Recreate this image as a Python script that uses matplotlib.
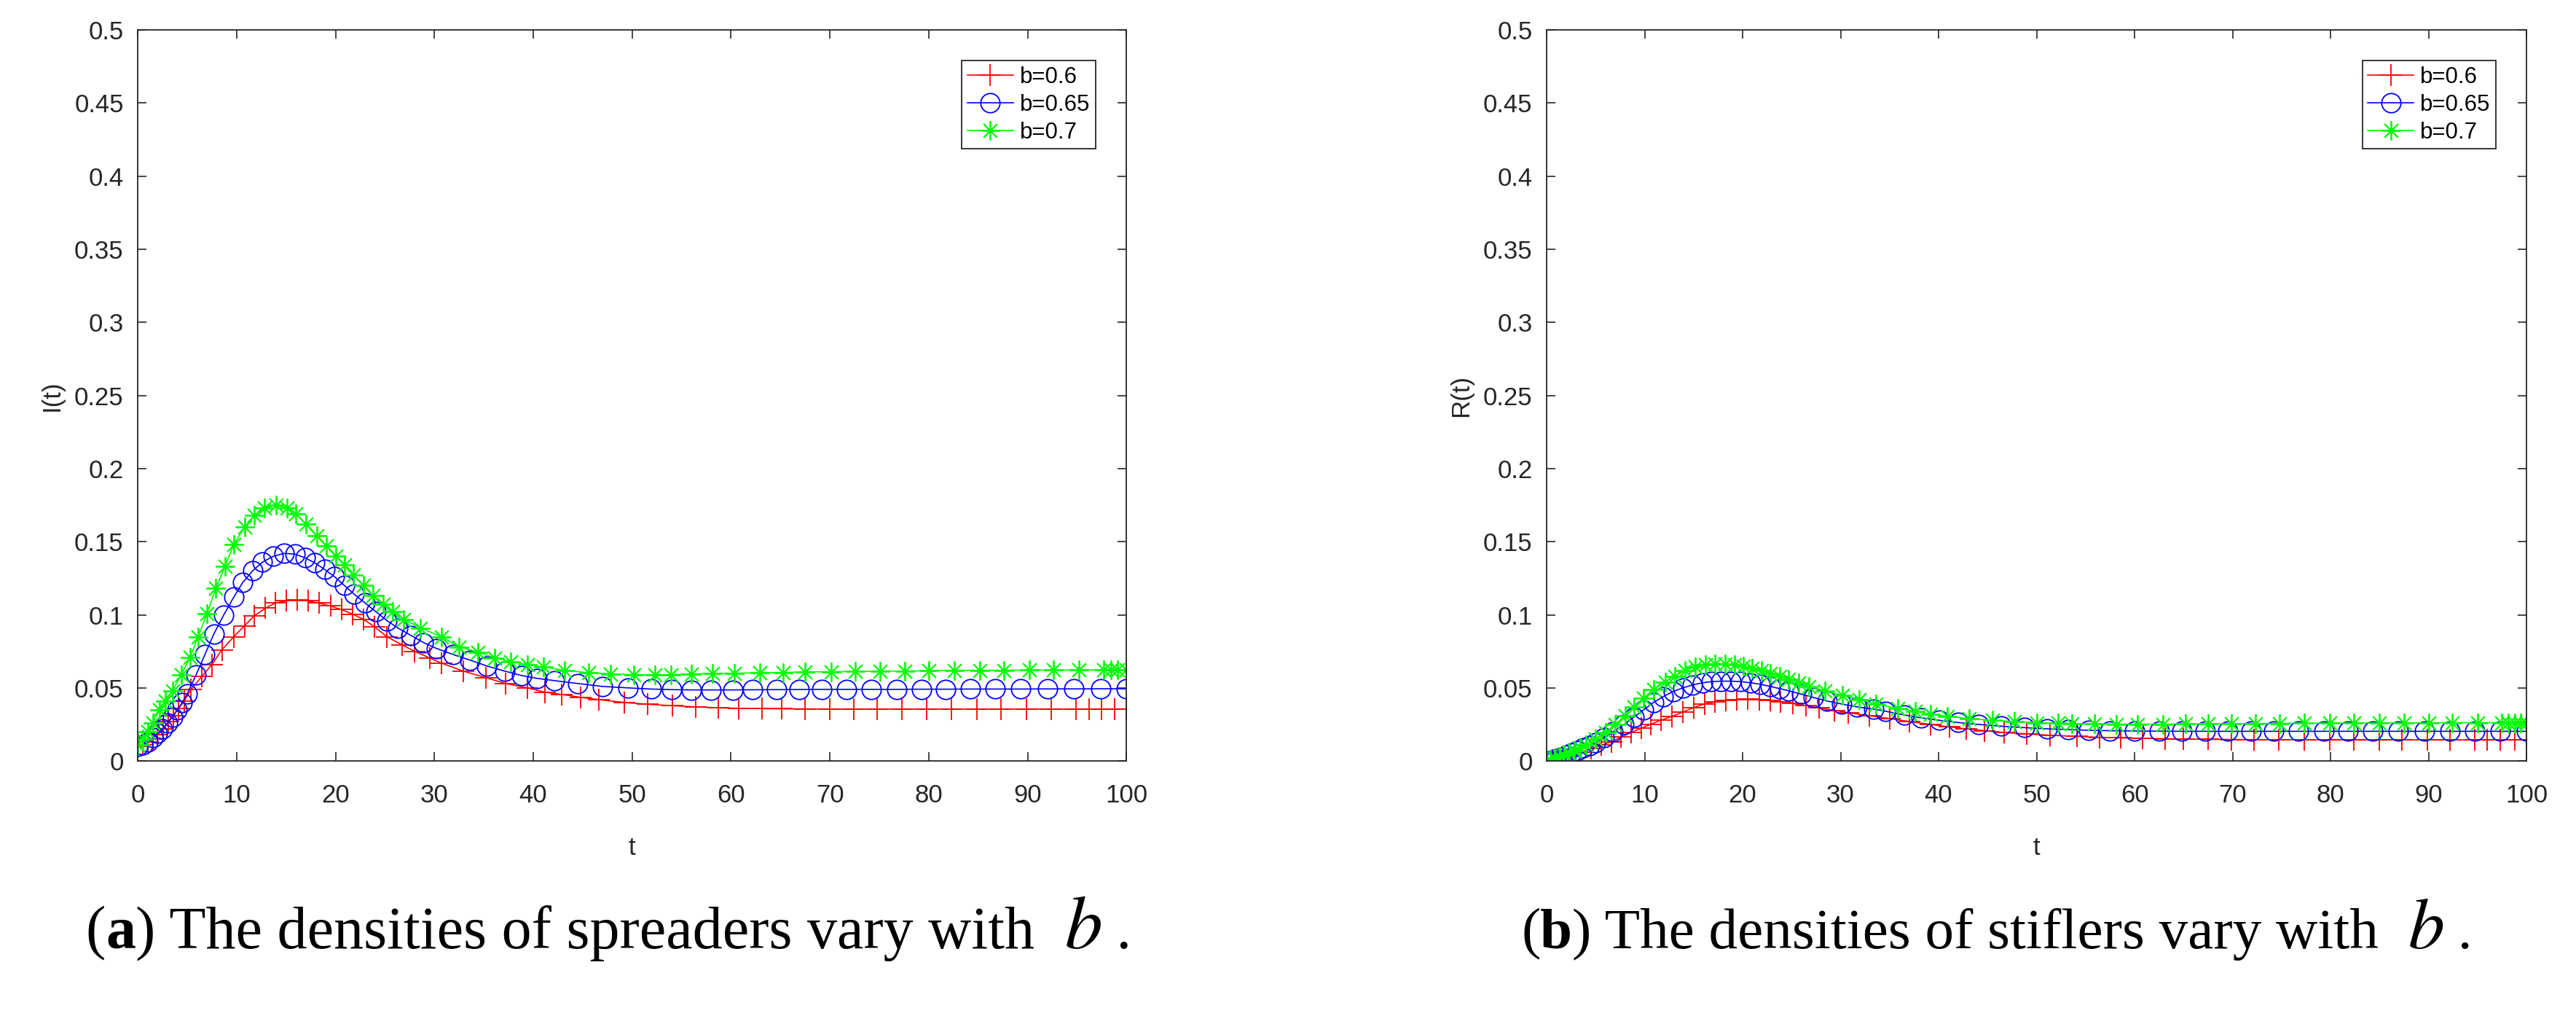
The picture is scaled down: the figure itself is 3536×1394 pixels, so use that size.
import matplotlib
matplotlib.use("Agg")
import matplotlib.pyplot as plt
from matplotlib import transforms

# ---- data ----
labels = ["b=0.6", "b=0.65", "b=0.7"]
x_ticks = [0, 10, 20, 30, 40, 50, 60, 70, 80, 90, 100]
y_ticks = [0, 0.05, 0.1, 0.15, 0.2, 0.25, 0.3, 0.35, 0.4, 0.45, 0.5]

# (a) spreaders I(t)
t_I_06 = [0, 0.5, 1.0, 1.5, 2.0, 2.6, 3.1, 3.6, 4.1, 4.7, 5.4, 6.5, 7.5, 8.5, 9.7,
          10.8, 11.8, 12.9, 13.9, 15.0, 16.1, 17.2, 18.3, 19.5, 20.6, 21.7, 22.8,
          23.9, 25.2, 26.7, 28.0, 29.5, 30.7, 32.9, 35.2, 37.2, 39.4, 41.2, 42.9,
          44.8, 46.6, 49.2, 51.6, 54.1, 56.4, 58.7, 60.8, 63.1, 65.1, 67.5, 70.0,
          72.4, 74.8, 77.3, 79.8, 82.3, 84.9, 87.3, 89.9, 92.4, 94.9, 96.2, 97.5,
          98.8, 100]
I_06 = [0.010, 0.011, 0.013, 0.015, 0.018, 0.022, 0.027, 0.031, 0.036, 0.041, 0.049,
        0.058, 0.066, 0.076, 0.085, 0.0925, 0.0995, 0.1045, 0.108, 0.1095, 0.110,
        0.1095, 0.108, 0.106, 0.1035, 0.1005, 0.097, 0.092, 0.085, 0.0795, 0.075,
        0.0705, 0.067, 0.0615, 0.057, 0.053, 0.050, 0.047, 0.0455, 0.0435, 0.042,
        0.040, 0.0388, 0.0378, 0.037, 0.0364, 0.036, 0.0358, 0.0357, 0.0356, 0.0355,
        0.0355, 0.0355, 0.0355, 0.0355, 0.0355, 0.0355, 0.0355, 0.0355, 0.0355,
        0.0355, 0.0355, 0.0355, 0.0355, 0.0355]

t_I_065 = [0, 0.5, 1.0, 1.5, 2.0, 2.5, 3.0, 3.5, 4.0, 4.5, 5.0, 5.9, 6.8, 7.7, 8.7,
           9.7, 10.6, 11.6, 12.6, 13.7, 14.8, 15.9, 16.9, 17.9, 18.9, 19.9, 20.9,
           21.9, 23.0, 24.1, 25.2, 26.3, 27.6, 28.9, 30.2, 31.9, 33.6, 35.3, 37.1,
           38.8, 40.4, 42.1, 44.5, 47.0, 49.6, 51.9, 54.0, 56.0, 58.0, 60.2, 62.2,
           64.6, 66.9, 69.2, 71.7, 74.2, 76.8, 79.3, 81.7, 84.2, 86.7, 89.3, 92.0,
           94.7, 97.4, 100]
I_065 = [0.010, 0.011, 0.013, 0.016, 0.019, 0.022, 0.026, 0.030, 0.035, 0.040, 0.046,
         0.059, 0.073, 0.087, 0.100, 0.112, 0.122, 0.130, 0.136, 0.140, 0.142, 0.1415,
         0.139, 0.1355, 0.131, 0.126, 0.120, 0.114, 0.108, 0.102, 0.096, 0.091, 0.086,
         0.081, 0.077, 0.0728, 0.069, 0.065, 0.0615, 0.0585, 0.0565, 0.055, 0.053,
         0.051, 0.050, 0.0492, 0.0488, 0.0486, 0.0486, 0.0486, 0.0487, 0.0488, 0.0489,
         0.049, 0.049, 0.049, 0.049, 0.0491, 0.0491, 0.0492, 0.0492, 0.0492, 0.0493,
         0.0493, 0.0494, 0.0494]

t_I_07 = [0, 0.5, 1.0, 1.5, 2.2, 2.8, 3.5, 4.4, 5.3, 6.1, 7.0, 7.9, 8.8, 9.7, 10.8,
          11.8, 12.8, 14.0, 15.1, 16.0, 17.0, 18.1, 19.1, 20.0, 20.9, 21.8, 22.8,
          23.8, 24.8, 25.8, 26.9, 28.6, 30.7, 32.5, 34.4, 36.1, 37.7, 39.4, 41.0,
          43.2, 45.6, 47.8, 50.2, 52.3, 53.9, 56.0, 58.1, 60.3, 62.9, 65.3, 67.5,
          70.1, 72.6, 75.1, 77.6, 80.0, 82.6, 85.2, 87.6, 90.2, 92.6, 95.2, 97.7,
          98.4, 99.1, 100]
I_07 = [0.011, 0.015, 0.020, 0.026, 0.035, 0.041, 0.048, 0.059, 0.071, 0.085, 0.101,
        0.118, 0.133, 0.148, 0.160, 0.168, 0.173, 0.175, 0.173, 0.169, 0.162, 0.154,
        0.147, 0.140, 0.134, 0.127, 0.120, 0.113, 0.107, 0.102, 0.097, 0.091, 0.085,
        0.078, 0.0745, 0.0705, 0.068, 0.066, 0.0643, 0.062, 0.0604, 0.0596, 0.059,
        0.059, 0.059, 0.0595, 0.060, 0.060, 0.0603, 0.0605, 0.061, 0.061, 0.0612,
        0.0615, 0.0615, 0.0618, 0.062, 0.062, 0.062, 0.0622, 0.0622, 0.0623, 0.0623,
        0.0623, 0.0623, 0.0623]

# (b) stiflers R(t)
t_R_06 = [0, 0.6, 1.2, 1.8, 2.3, 3.5, 4.5, 5.6, 6.6, 7.6, 8.6, 9.7, 10.6, 11.7, 12.8,
          13.9, 15.0, 16.1, 17.2, 18.3, 19.4, 20.5, 21.7, 22.8, 23.9, 25.1, 26.5,
          27.8, 29.4, 30.8, 32.9, 35.0, 37.0, 39.2, 41.1, 42.8, 44.7, 46.7, 49.0,
          51.4, 54.1, 56.4, 58.6, 60.8, 63.1, 65.0, 67.5, 69.9, 72.2, 74.7, 77.3,
          79.9, 82.4, 85.0, 87.3, 89.9, 92.2, 94.7, 96.0, 97.3, 98.8, 100]
R_06 = [0.000, 0.0007, 0.0015, 0.0027, 0.0037, 0.006, 0.0084, 0.0108, 0.0132, 0.0163,
        0.0195, 0.0225, 0.025, 0.028, 0.0305, 0.0335, 0.0365, 0.039, 0.0405, 0.0415,
        0.042, 0.0422, 0.042, 0.0415, 0.0405, 0.0393, 0.0378, 0.0362, 0.0346, 0.033,
        0.031, 0.029, 0.027, 0.025, 0.0233, 0.022, 0.0207, 0.0195, 0.0185, 0.0176,
        0.0168, 0.0162, 0.0158, 0.0155, 0.0152, 0.015, 0.0148, 0.0147, 0.0146, 0.0145,
        0.0145, 0.0144, 0.0144, 0.0144, 0.0144, 0.0144, 0.0144, 0.0144, 0.0144,
        0.0144, 0.0144, 0.0144]

t_R_065 = [0, 0.5, 1.0, 1.5, 2.0, 2.5, 3.1, 3.7, 4.4, 5.0, 5.9, 6.8, 7.9, 8.9, 9.9,
           10.9, 11.9, 12.9, 13.9, 14.9, 15.9, 16.8, 17.8, 18.8, 19.8, 20.8, 21.8,
           22.8, 23.8, 24.7, 26.0, 27.2, 28.6, 30.1, 31.7, 33.4, 34.6, 36.5, 38.2,
           40.1, 42.0, 44.1, 46.4, 48.8, 51.1, 53.2, 55.3, 57.5, 60.0, 62.5, 64.8,
           67.2, 69.5, 71.9, 74.2, 76.7, 79.3, 81.8, 84.3, 86.9, 89.6, 92.2, 94.7,
           97.3, 100]
R_065 = [0.000, 0.0008, 0.0017, 0.0027, 0.004, 0.0055, 0.007, 0.0088, 0.0105, 0.0125,
         0.0158, 0.020, 0.025, 0.030, 0.035, 0.040, 0.044, 0.0475, 0.050, 0.052,
         0.0535, 0.0543, 0.0546, 0.0546, 0.0543, 0.0535, 0.0525, 0.051, 0.0495,
         0.048, 0.0457, 0.0435, 0.041, 0.039, 0.037, 0.0355, 0.034, 0.0315, 0.0295,
         0.0278, 0.0263, 0.025, 0.0238, 0.0228, 0.022, 0.0215, 0.021, 0.0207, 0.0205,
         0.0204, 0.0203, 0.0203, 0.0203, 0.0203, 0.0203, 0.0203, 0.0203, 0.0203,
         0.0203, 0.0203, 0.0203, 0.0203, 0.0203, 0.0203, 0.0203]

t_R_07 = [0, 0.4, 0.8, 1.3, 1.8, 2.3, 2.8, 3.4, 4.0, 5.0, 6.0, 7.0, 8.0, 8.9, 9.9,
          10.9, 12.1, 13.1, 14.1, 15.2, 16.2, 17.2, 18.2, 19.2, 20.1, 21.0, 21.9,
          22.8, 23.8, 24.7, 25.7, 26.8, 28.4, 30.2, 31.9, 33.6, 35.8, 37.6, 39.2,
          40.9, 43.1, 45.5, 47.7, 50.0, 52.2, 53.6, 55.9, 58.1, 60.3, 62.9, 65.2,
          67.5, 69.9, 72.3, 74.8, 77.3, 79.9, 82.4, 85.0, 87.5, 90.0, 92.4, 95.0,
          97.5, 98.1, 98.8, 99.4, 100]
R_07 = [0.000, 0.001, 0.002, 0.003, 0.004, 0.0055, 0.007, 0.009, 0.011, 0.0148,
        0.0195, 0.025, 0.031, 0.037, 0.043, 0.049, 0.054, 0.058, 0.062, 0.0645, 0.066,
        0.0665, 0.0665, 0.066, 0.065, 0.0636, 0.062, 0.060, 0.058, 0.056, 0.0535,
        0.051, 0.048, 0.045, 0.042, 0.039, 0.036, 0.034, 0.032, 0.0305, 0.029, 0.0278,
        0.027, 0.0262, 0.0258, 0.0255, 0.0253, 0.0252, 0.0252, 0.0252, 0.0253, 0.0254,
        0.0255, 0.0256, 0.0257, 0.0258, 0.0259, 0.026, 0.026, 0.0261, 0.0261, 0.0262,
        0.0262, 0.0262, 0.0262, 0.0262, 0.0262, 0.0262]

panels = [
    ("I(t)", [(t_I_06, I_06), (t_I_065, I_065), (t_I_07, I_07)],
     "a", " The densities of spreaders vary with  "),
    ("R(t)", [(t_R_06, R_06), (t_R_065, R_065), (t_R_07, R_07)],
     "b", " The densities of stiflers vary with  "),
]

# ---- style ----
colors = ["#ff0000", "#0000ff", "#00ff00"]
markers = ["+", "o", (8, 2, 0)]
msizes = [22, 19, 19]
axcol = "#262626"

plt.rcParams["font.family"] = ["Liberation Sans", "DejaVu Sans"]
plt.rcParams["mathtext.fontset"] = "stix"

fig = plt.figure(figsize=(35.36, 13.94), dpi=100)
ax_pos = [[0.0535, 0.251, 0.3838, 0.7195], [0.6004, 0.251, 0.3804, 0.7195]]
cap_x = [0.0333, 0.5905]
cap_size = [59, 57]

for k, (ylab, series, letter, rest) in enumerate(panels):
    ax = fig.add_axes(ax_pos[k])
    for (tt, yy), c, m, ms, lab in zip(series, colors, markers, msizes, labels):
        ax.plot(tt, yy, color=c, lw=1.2, marker=m, ms=ms, mew=1.3,
                mfc="none", mec=c, label=lab)
    ax.set_xlim(0, 100)
    ax.set_ylim(0, 0.5)
    ax.set_xticks(x_ticks)
    ax.set_yticks(y_ticks)
    ax.set_yticklabels(["%g" % v for v in y_ticks])
    ax.tick_params(direction="in", length=8.5, width=1.2, colors=axcol,
                   labelsize=25, top=True, right=True)
    ax.tick_params(axis="x", pad=22)
    ax.tick_params(axis="y", pad=14)
    for sp in ax.spines.values():
        sp.set_color(axcol)
        sp.set_linewidth(1.3)
    ax.set_xlabel("t", fontsize=25, color=axcol, labelpad=28)
    ax.set_ylabel(ylab, fontsize=25, color=axcol, labelpad=10)
    leg = ax.legend(loc="upper right", bbox_to_anchor=(0.969, 0.958),
                    fontsize=22.5, numpoints=1, handlelength=2.0,
                    handletextpad=0.3, labelspacing=0.25, borderpad=0.25,
                    borderaxespad=0, fancybox=False, framealpha=1)
    leg.get_frame().set_edgecolor(axcol)
    leg.get_frame().set_linewidth(1.3)

    # caption: (a) The densities ... with  b .
    s = cap_size[k]
    pieces = [("(", "normal", s), (letter, "bold", s), (")" + rest, "normal", s),
              ("$b$", "normal", s * 1.26), (" .", "normal", s)]
    tr = fig.transFigure
    fig.canvas.draw()
    for txt, wt, sz in pieces:
        t = fig.text(cap_x[k], 0.067, txt, transform=tr, fontsize=sz,
                     family="Liberation Serif", weight=wt,
                     va="baseline", ha="left")
        t.draw(fig.canvas.get_renderer())
        ex = t.get_window_extent()
        tr = transforms.offset_copy(t.get_transform(), x=ex.width, units="dots")

fig.savefig("out.png", dpi=100)
